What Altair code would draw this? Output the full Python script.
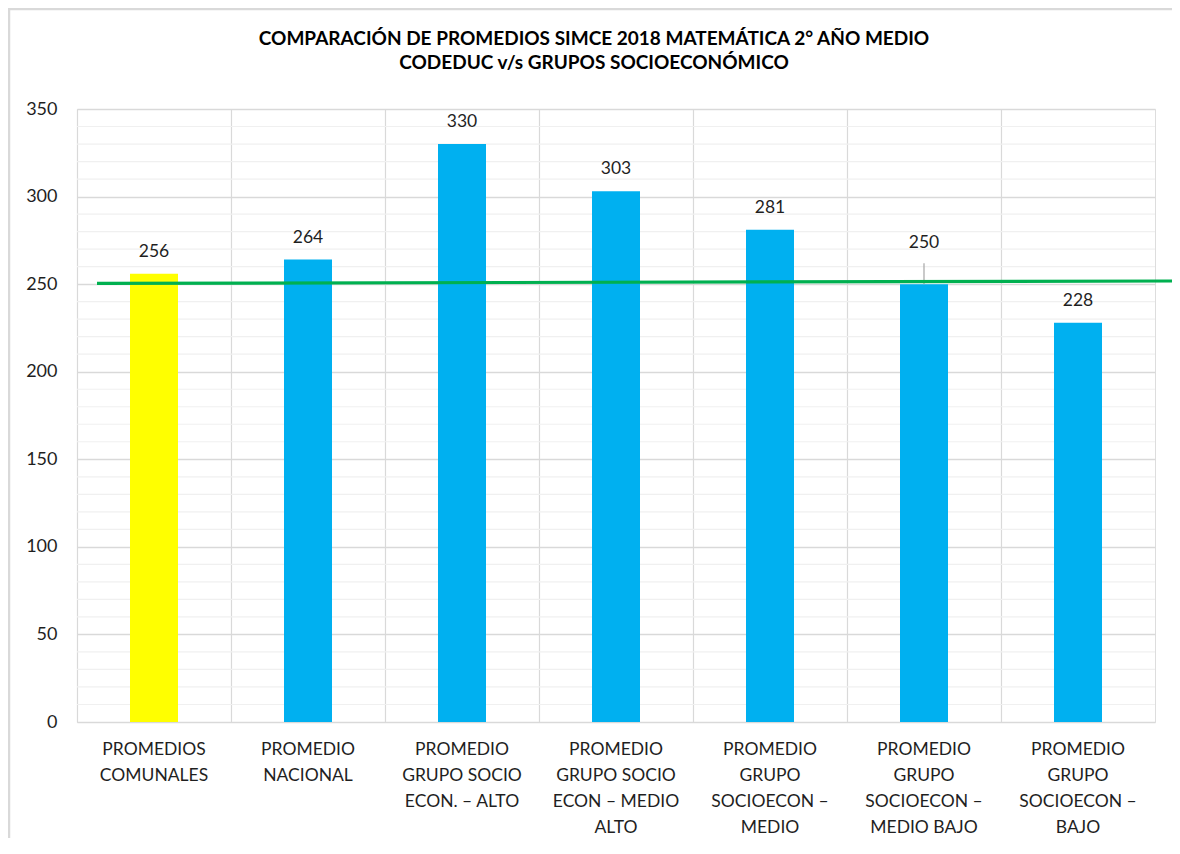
import altair as alt
import pandas as pd

categories = [
    "PROMEDIOS|COMUNALES",
    "PROMEDIO|NACIONAL",
    "PROMEDIO|GRUPO SOCIO|ECON. – ALTO",
    "PROMEDIO|GRUPO SOCIO|ECON – MEDIO|ALTO",
    "PROMEDIO|GRUPO|SOCIOECON –|MEDIO",
    "PROMEDIO|GRUPO|SOCIOECON –|MEDIO BAJO",
    "PROMEDIO|GRUPO|SOCIOECON –|BAJO",
]
values = [256, 264, 330, 303, 281, 250, 228]
bar_colors = ["#FFFF00", "#00B0F0", "#00B0F0", "#00B0F0", "#00B0F0", "#00B0F0", "#00B0F0"]
raised_label = [False, False, False, False, False, True, False]

# reference line (green), start and end values
ref_line_values = [250.4, 251.8]

y_major_ticks = [0, 50, 100, 150, 200, 250, 300, 350]
y_minor_ticks = [10, 20, 30, 40, 60, 70, 80, 90, 110, 120, 130, 140, 160, 170, 180, 190,
                 210, 220, 230, 240, 260, 270, 280, 290, 310, 320, 330, 340]

title_lines = [
    "COMPARACIÓN DE PROMEDIOS SIMCE 2018  MATEMÁTICA 2° AÑO MEDIO",
    "CODEDUC v/s GRUPOS SOCIOECONÓMICO",
]

FONT = "Lato"
W, H = 1078, 613

df = pd.DataFrame({
    "cat": categories,
    "value": values,
    "color": bar_colors,
    "raised": raised_label,
})

x_enc = alt.X(
    "cat:N",
    sort=categories,
    scale=alt.Scale(paddingInner=0, paddingOuter=0),
    axis=alt.Axis(
        title=None,
        labelAngle=0,
        labelExpr="split(datum.label, '|')",
        labelFont=FONT,
        labelFontSize=17.5,
        labelColor="#1f1f1f",
        labelLineHeight=26,
        labelPadding=18,
        labelBaseline="top",
        ticks=False,
        domain=False,
        grid=True,
        bandPosition=0,
        gridColor="#d9d9d9",
        gridWidth=1.2,
    ),
)

y_scale = alt.Scale(domain=[0, 350], nice=False)
y_axis = alt.Axis(
    title=None,
    values=y_major_ticks,
    labelFont=FONT,
    labelFontSize=18,
    labelColor="#1f1f1f",
    labelPadding=20,
    labelOverlap=False,
    ticks=False,
    domain=False,
    grid=True,
    gridColor="#d9d9d9",
    gridWidth=1.3,
)

minor_df = pd.DataFrame({"v": y_minor_ticks})
minor = alt.Chart(minor_df).mark_rule(color="#f0f0f0", strokeWidth=1.2).encode(
    y=alt.Y("v:Q", scale=y_scale, axis=y_axis)
)

base = alt.Chart(df)

bars = base.mark_bar(size=48).encode(
    x=x_enc,
    y=alt.Y("value:Q", scale=y_scale, axis=y_axis),
    color=alt.Color("color:N", scale=None),
)

labels = base.transform_filter("!datum.raised").mark_text(
    font=FONT, fontSize=17.5, color="#1f1f1f", dy=-22
).encode(
    x=alt.X("cat:N", sort=categories),
    y=alt.Y("value:Q", scale=y_scale),
    text=alt.Text("value:Q"),
)

raised = base.transform_filter("datum.raised").mark_text(
    font=FONT, fontSize=17.5, color="#1f1f1f", dy=-41
).encode(
    x=alt.X("cat:N", sort=categories),
    y=alt.Y("value:Q", scale=y_scale),
    text=alt.Text("value:Q"),
)

# leader line: from the bar top up to just below the raised label
leader = base.transform_filter("datum.raised").transform_calculate(
    top="datum.value + 12"
).mark_rule(color="#a6a6a6", strokeWidth=1.2).encode(
    x=alt.X("cat:N", sort=categories),
    y=alt.Y("value:Q", scale=y_scale),
    y2="top:Q",
)

line_df = pd.DataFrame({"y": [ref_line_values[0]], "y2": [ref_line_values[1]]})
green = alt.Chart(line_df).mark_rule(color="#00B050", strokeWidth=3.2).encode(
    x=alt.value(20),
    x2=alt.value(1110),
    y=alt.Y("y:Q", scale=y_scale),
    y2="y2:Q",
)

# outer chart-area border (top and left edges visible in the reference)
frame_top = alt.Chart(line_df).mark_rule(color="#d9d9d9", strokeWidth=2.5).encode(
    x=alt.value(-69), x2=alt.value(1110), y=alt.value(-100)
)
frame_left = alt.Chart(line_df).mark_rule(color="#d9d9d9", strokeWidth=2.5).encode(
    x=alt.value(-68), y=alt.value(-101), y2=alt.value(760)
)

title_df = pd.DataFrame({"t": ["\n".join(title_lines)]})
title = alt.Chart(title_df).mark_text(
    font=FONT, fontSize=19, fontWeight="bold", color="#000000",
    align="center", baseline="top", lineBreak="\n", lineHeight=24,
).encode(
    x=alt.value(517), y=alt.value(-79), text="t:N"
)

chart = alt.layer(frame_top, frame_left, minor, bars, leader, labels, raised, green, title).properties(
    width=W,
    height=H,
    autosize=alt.AutoSizeParams(type="none"),
    padding={"left": 69, "top": 101, "right": 17, "bottom": 116},
).configure_view(stroke="#d9d9d9", strokeWidth=1.2).configure(background="white")

chart.save("out.html", embed_options={"renderer": "svg", "actions": False})
